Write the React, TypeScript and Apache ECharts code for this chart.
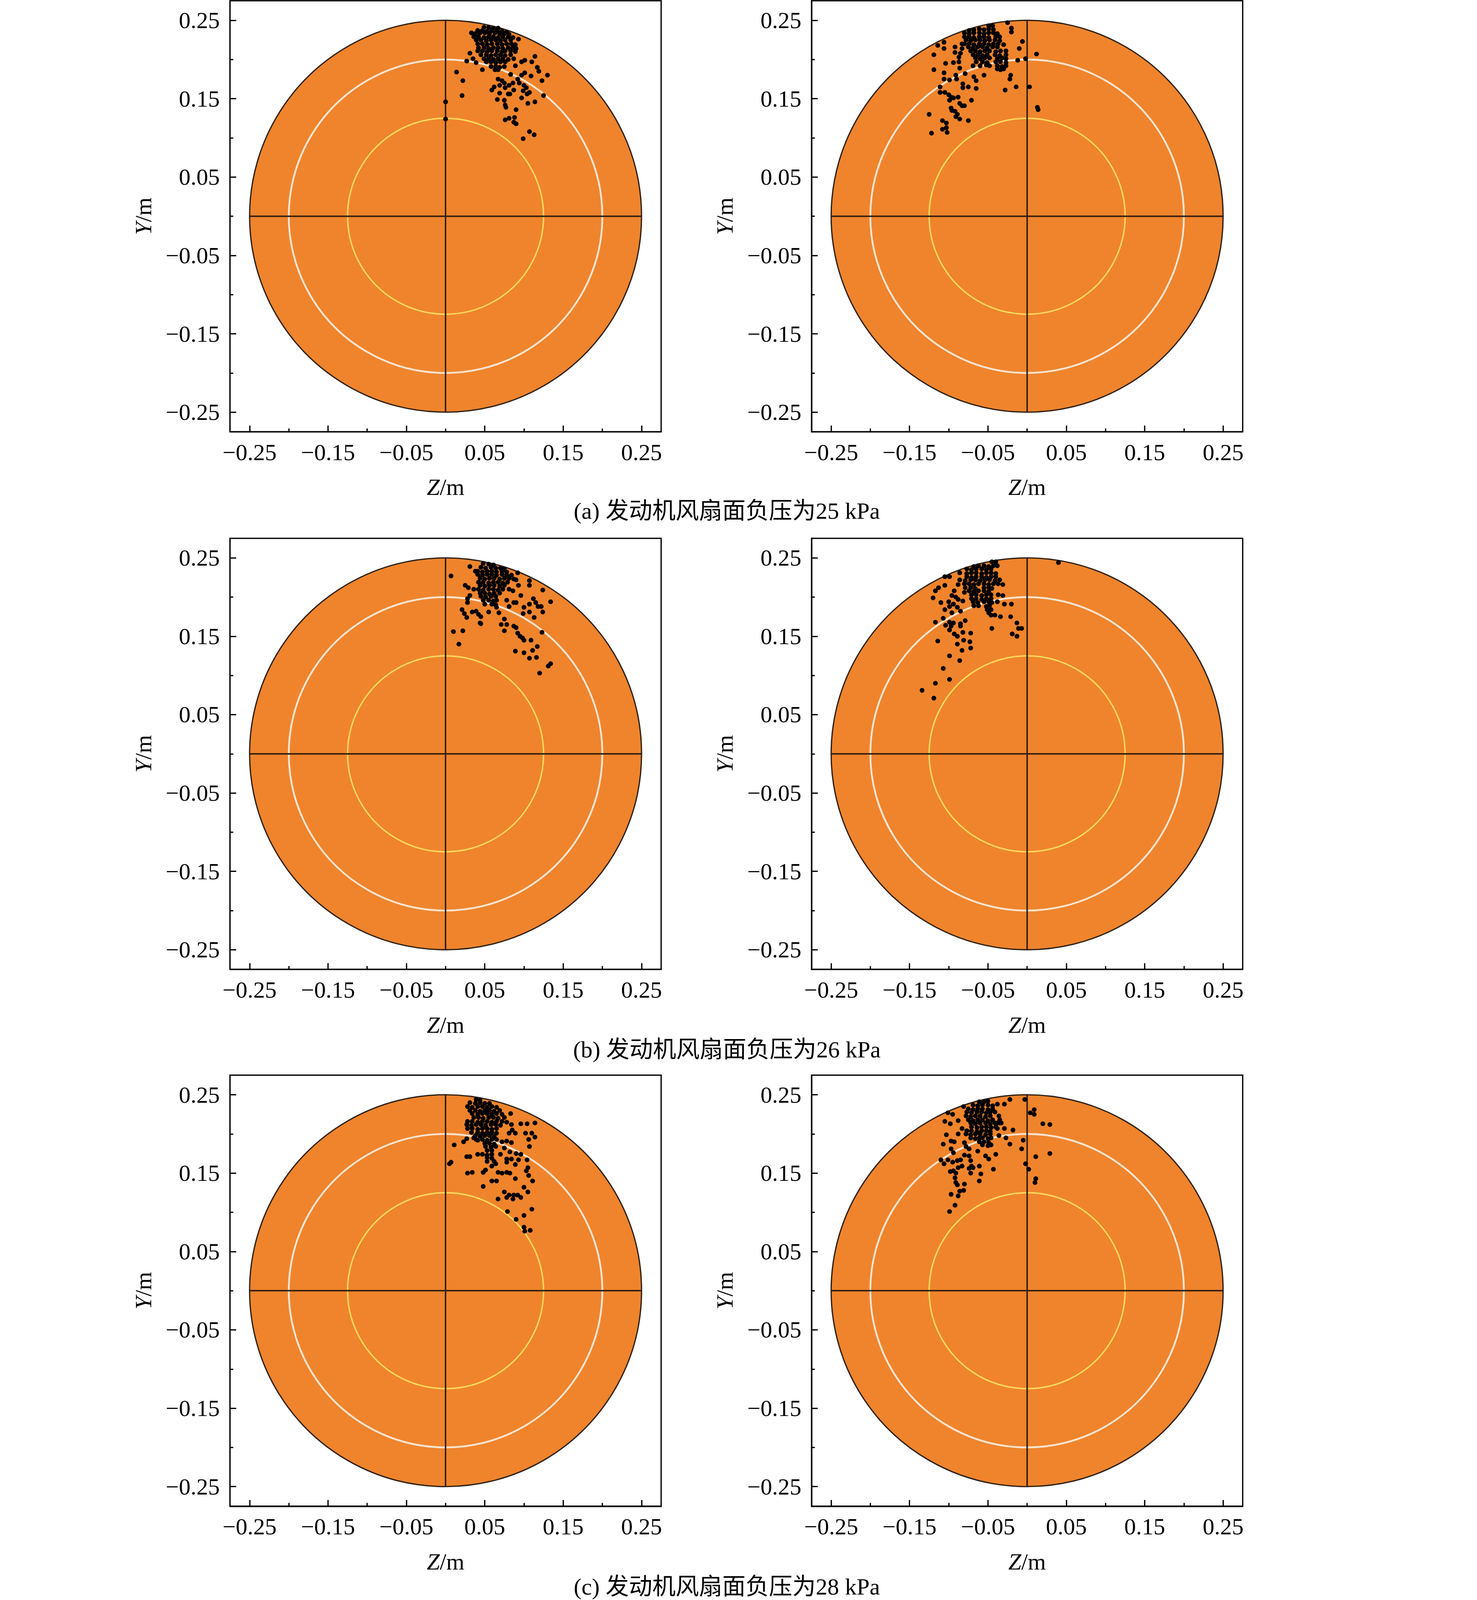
import React, { useEffect, useRef } from "react";
import * as echarts from "echarts";

const axisMin = -0.275;
const axisMax = 0.275;
const majorTicks = [-0.25, -0.15, -0.05, 0.05, 0.15, 0.25];
const minorTicks = [-0.2, -0.1, 0, 0.1, 0.2];
const ringRadii = [0.25, 0.2, 0.125];
const crossLines = [
  [-0.25, 0, 0.25, 0],
  [0, -0.25, 0, 0.25],
];
const captions = [
  "(a) 发动机风扇面负压为25 kPa",
  "(b) 发动机风扇面负压为26 kPa",
  "(c) 发动机风扇面负压为28 kPa",
];

// (a) left
const aLeft: number[][] = [
  [0.049,0.241],[0.055,0.241],[0.061,0.240],[0.067,0.240],
  [0.041,0.237],[0.047,0.237],[0.053,0.236],[0.059,0.237],[0.066,0.237],[0.072,0.236],[0.078,0.235],
  [0.033,0.234],[0.038,0.233],[0.044,0.234],[0.050,0.234],[0.056,0.233],[0.063,0.234],[0.069,0.233],[0.075,0.233],[0.081,0.232],
  [0.036,0.229],[0.042,0.229],[0.049,0.228],[0.055,0.229],[0.061,0.229],[0.067,0.228],[0.073,0.229],[0.080,0.229],[0.086,0.228],
  [0.039,0.225],[0.045,0.225],[0.052,0.224],[0.058,0.225],[0.064,0.225],[0.070,0.224],[0.076,0.225],[0.083,0.225],
  [0.041,0.220],[0.047,0.220],[0.053,0.219],[0.059,0.220],[0.066,0.220],[0.072,0.219],[0.078,0.220],[0.084,0.220],[0.089,0.219],
  [0.042,0.215],[0.049,0.215],[0.055,0.214],[0.061,0.215],[0.067,0.215],[0.073,0.214],[0.080,0.215],[0.086,0.215],[0.090,0.214],
  [0.041,0.211],[0.047,0.211],[0.053,0.210],[0.059,0.211],[0.066,0.211],[0.072,0.210],[0.076,0.211],[0.083,0.211],[0.089,0.210],
  [0.045,0.206],[0.052,0.206],[0.058,0.205],[0.064,0.206],[0.070,0.206],[0.076,0.205],[0.083,0.206],
  [0.049,0.201],[0.055,0.201],[0.061,0.200],[0.067,0.201],[0.073,0.201],[0.080,0.200],[0.087,0.201],
  [0.052,0.197],[0.058,0.197],[0.064,0.196],[0.070,0.197],[0.076,0.197],
  [0.058,0.191],[0.064,0.191],[0.069,0.190],[0.075,0.191],
  [0.063,0.187],[0.067,0.187],
  [0.014,0.184],[0.022,0.173],[0.021,0.154],[0.000,0.146],[0.000,0.124],
  [0.027,0.198],[0.031,0.208],[0.035,0.201],[0.039,0.196],[0.047,0.187],
  [0.093,0.226],[0.114,0.204],[0.110,0.197],[0.117,0.190],[0.119,0.185],
  [0.097,0.197],[0.101,0.199],[0.089,0.192],[0.083,0.181],
  [0.130,0.180],[0.123,0.173],[0.125,0.154],[0.109,0.179],
  [0.101,0.183],[0.097,0.180],[0.092,0.175],[0.094,0.170],[0.100,0.167],[0.103,0.164],[0.104,0.156],[0.099,0.160],[0.107,0.158],
  [0.067,0.175],[0.072,0.173],[0.075,0.170],[0.062,0.165],[0.059,0.161],[0.069,0.167],[0.076,0.164],[0.081,0.167],[0.086,0.170],
  [0.087,0.161],[0.082,0.156],[0.080,0.156],[0.069,0.157],
  [0.066,0.149],[0.075,0.148],[0.076,0.142],[0.077,0.139],[0.097,0.151],[0.105,0.144],[0.114,0.146],[0.090,0.136],
  [0.076,0.123],[0.081,0.125],[0.088,0.126],[0.087,0.120],[0.090,0.118],
  [0.107,0.108],[0.113,0.104],[0.099,0.099],
];

// (a) right
const aRight: number[][] = [
  [-0.049,0.243],[-0.044,0.243],
  [-0.074,0.237],[-0.068,0.238],[-0.061,0.239],[-0.055,0.238],[-0.049,0.239],[-0.043,0.238],
  [-0.080,0.234],[-0.074,0.233],[-0.068,0.234],[-0.061,0.234],[-0.055,0.233],[-0.049,0.234],[-0.043,0.234],[-0.038,0.233],
  [-0.080,0.229],[-0.074,0.229],[-0.068,0.228],[-0.061,0.229],[-0.055,0.229],[-0.049,0.228],[-0.040,0.229],[-0.035,0.229],
  [-0.078,0.225],[-0.072,0.224],[-0.066,0.225],[-0.060,0.225],[-0.054,0.224],[-0.048,0.225],[-0.041,0.225],[-0.035,0.224],
  [-0.080,0.220],[-0.074,0.220],[-0.068,0.219],[-0.061,0.220],[-0.055,0.220],[-0.049,0.219],[-0.043,0.220],[-0.037,0.220],[-0.030,0.219],
  [-0.075,0.216],[-0.069,0.215],[-0.063,0.216],[-0.057,0.216],[-0.051,0.215],[-0.044,0.216],[-0.038,0.216],
  [-0.072,0.211],[-0.066,0.211],[-0.060,0.210],[-0.054,0.211],[-0.048,0.211],[-0.040,0.210],[-0.034,0.211],[-0.027,0.211],
  [-0.069,0.206],[-0.063,0.206],[-0.057,0.205],[-0.051,0.206],[-0.041,0.206],[-0.035,0.205],[-0.027,0.206],
  [-0.066,0.202],[-0.060,0.201],[-0.054,0.202],[-0.048,0.202],[-0.038,0.201],[-0.032,0.202],[-0.027,0.201],
  [-0.065,0.197],[-0.057,0.197],[-0.051,0.196],[-0.040,0.197],[-0.034,0.197],[-0.027,0.196],
  [-0.069,0.192],[-0.060,0.192],[-0.052,0.193],[-0.048,0.192],[-0.038,0.192],[-0.032,0.191],[-0.027,0.192],
  [-0.038,0.188],[-0.034,0.187],[-0.030,0.188],
  [-0.025,0.247],[-0.020,0.240],[-0.020,0.235],[-0.006,0.223],[-0.010,0.214],[0.012,0.207],[-0.012,0.199],[-0.002,0.201],
  [-0.021,0.180],[-0.022,0.175],[-0.014,0.165],[0.003,0.165],[-0.028,0.161],[-0.055,0.180],[-0.068,0.178],[-0.065,0.173],
  [-0.065,0.163],[-0.075,0.165],[-0.082,0.169],[-0.082,0.164],[-0.079,0.182],
  [-0.106,0.222],[-0.114,0.218],[-0.106,0.214],[-0.119,0.206],[-0.092,0.216],[-0.092,0.209],[-0.083,0.220],[-0.083,0.214],
  [-0.085,0.208],[-0.087,0.203],[-0.087,0.197],[-0.086,0.189],[-0.094,0.196],[-0.104,0.195],[-0.119,0.187],[-0.106,0.183],
  [-0.091,0.180],[-0.090,0.175],[-0.099,0.174],[-0.106,0.175],
  [-0.111,0.165],[-0.111,0.158],[-0.105,0.158],[-0.100,0.155],[-0.097,0.152],[-0.099,0.148],[-0.094,0.151],[-0.088,0.152],
  [-0.086,0.144],[-0.083,0.141],[-0.080,0.141],[-0.097,0.138],[-0.096,0.135],[-0.092,0.134],[-0.089,0.130],[-0.086,0.124],
  [-0.091,0.127],[-0.075,0.122],[-0.071,0.148],[-0.125,0.130],[-0.108,0.122],[-0.103,0.119],[-0.108,0.111],[-0.103,0.113],
  [-0.102,0.107],[-0.122,0.106],[0.013,0.139],[0.014,0.136],
];

// (b) left
const bLeft: number[][] = [
  [0.048,0.243],[0.055,0.242],[0.061,0.241],
  [0.045,0.238],[0.051,0.237],[0.058,0.238],[0.064,0.237],[0.070,0.237],[0.075,0.236],
  [0.041,0.233],[0.047,0.232],[0.053,0.233],[0.059,0.233],[0.065,0.232],[0.072,0.233],[0.078,0.232],
  [0.041,0.229],[0.047,0.228],[0.053,0.229],[0.059,0.229],[0.065,0.228],[0.072,0.229],[0.078,0.228],[0.084,0.228],
  [0.044,0.224],[0.050,0.223],[0.056,0.224],[0.062,0.224],[0.069,0.223],[0.075,0.224],[0.081,0.224],[0.087,0.223],
  [0.042,0.219],[0.048,0.219],[0.055,0.218],[0.061,0.219],[0.067,0.219],[0.073,0.218],[0.079,0.219],
  [0.044,0.215],[0.050,0.214],[0.056,0.215],[0.062,0.215],[0.069,0.214],[0.075,0.215],
  [0.036,0.210],[0.042,0.210],[0.048,0.209],[0.055,0.210],[0.061,0.210],[0.067,0.209],[0.073,0.210],
  [0.044,0.205],[0.050,0.205],[0.056,0.204],[0.062,0.205],[0.069,0.205],
  [0.045,0.201],[0.051,0.200],[0.058,0.201],[0.064,0.201],
  [0.048,0.196],[0.055,0.196],[0.061,0.195],[0.065,0.196],
  [0.050,0.191],[0.059,0.191],[0.064,0.190],
  [0.065,0.187],
  [0.031,0.239],[0.007,0.227],[0.038,0.233],[0.025,0.215],[0.029,0.212],[0.031,0.202],[0.028,0.198],[0.028,0.193],
  [0.081,0.210],[0.086,0.208],[0.093,0.215],[0.092,0.231],[0.090,0.222],[0.107,0.221],[0.107,0.215],[0.124,0.209],
  [0.096,0.202],[0.134,0.194],[0.078,0.196],[0.081,0.188],[0.087,0.193],[0.090,0.193],[0.100,0.187],[0.107,0.191],
  [0.112,0.198],[0.115,0.193],[0.118,0.188],[0.122,0.188],[0.124,0.181],[0.113,0.174],[0.107,0.181],[0.099,0.179],
  [0.055,0.181],[0.068,0.180],[0.021,0.184],[0.024,0.179],[0.027,0.174],[0.034,0.181],[0.039,0.182],[0.042,0.178],
  [0.045,0.175],[0.044,0.167],[0.045,0.166],[0.075,0.172],[0.071,0.165],[0.078,0.165],[0.075,0.157],[0.087,0.163],
  [0.090,0.161],[0.092,0.154],[0.095,0.150],[0.098,0.148],[0.100,0.145],[0.109,0.145],[0.117,0.137],[0.111,0.132],
  [0.089,0.131],[0.100,0.129],[0.107,0.122],[0.116,0.123],[0.123,0.155],[0.131,0.112],[0.134,0.115],[0.120,0.103],
  [0.010,0.156],[0.022,0.157],[0.017,0.140],
];

// (b) right
const bRight: number[][] = [
  [-0.045,0.245],[-0.040,0.245],
  [-0.068,0.239],[-0.062,0.240],[-0.055,0.240],[-0.049,0.239],[-0.043,0.240],[-0.038,0.240],
  [-0.077,0.236],[-0.071,0.235],[-0.065,0.236],[-0.058,0.236],[-0.052,0.235],[-0.046,0.236],
  [-0.086,0.231],[-0.077,0.230],[-0.071,0.231],[-0.065,0.231],[-0.058,0.230],[-0.052,0.231],[-0.046,0.231],[-0.040,0.230],
  [-0.105,0.226],[-0.099,0.226],[-0.077,0.226],[-0.071,0.225],[-0.065,0.226],[-0.058,0.226],[-0.052,0.225],[-0.046,0.226],[-0.040,0.226],
  [-0.086,0.222],[-0.079,0.221],[-0.072,0.222],[-0.066,0.222],[-0.060,0.221],[-0.054,0.222],[-0.048,0.222],[-0.041,0.221],[-0.035,0.222],
  [-0.080,0.217],[-0.074,0.217],[-0.068,0.216],[-0.062,0.217],[-0.055,0.217],[-0.049,0.216],[-0.043,0.217],[-0.037,0.217],[-0.031,0.216],
  [-0.079,0.212],[-0.072,0.212],[-0.066,0.211],[-0.055,0.212],[-0.049,0.212],[-0.045,0.211],
  [-0.074,0.208],[-0.068,0.207],[-0.062,0.208],[-0.055,0.208],[-0.049,0.207],
  [-0.071,0.203],[-0.065,0.203],[-0.058,0.202],[-0.052,0.203],[-0.046,0.203],[-0.037,0.203],[-0.031,0.202],
  [-0.071,0.198],[-0.065,0.198],[-0.058,0.197],[-0.052,0.198],[-0.046,0.198],
  [-0.069,0.194],[-0.063,0.193],[-0.055,0.194],[-0.049,0.194],[-0.045,0.193],[-0.038,0.194],
  [-0.068,0.189],[-0.062,0.189],[-0.052,0.188],[-0.048,0.189],
  [-0.051,0.184],[-0.046,0.184],[-0.049,0.180],[-0.046,0.177],[-0.041,0.177],
  [0.040,0.244],[-0.105,0.215],[-0.113,0.212],[-0.117,0.208],[-0.120,0.199],[-0.110,0.193],[-0.093,0.208],[-0.088,0.216],
  [-0.080,0.206],[-0.096,0.202],[-0.091,0.200],[-0.088,0.197],[-0.082,0.195],[-0.100,0.194],[-0.094,0.191],[-0.089,0.187],
  [-0.085,0.182],[-0.105,0.184],[-0.096,0.180],[-0.099,0.188],[-0.029,0.191],[-0.020,0.191],[-0.034,0.175],[-0.021,0.175],
  [-0.107,0.173],[-0.117,0.168],[-0.104,0.164],[-0.099,0.168],[-0.097,0.163],[-0.099,0.158],[-0.094,0.167],[-0.085,0.166],
  [-0.085,0.163],[-0.079,0.170],[-0.093,0.153],[-0.089,0.150],[-0.082,0.155],[-0.072,0.154],[-0.045,0.160],[-0.013,0.167],
  [-0.011,0.160],[-0.007,0.160],[-0.019,0.153],[-0.013,0.150],[-0.114,0.144],[-0.089,0.140],[-0.081,0.145],[-0.073,0.143],
  [-0.072,0.135],[-0.083,0.132],[-0.099,0.125],[-0.086,0.119],[-0.107,0.109],[-0.099,0.095],[-0.117,0.090],[-0.134,0.081],
  [-0.119,0.071],
];

// (c) left
const cLeft: number[][] = [
  [0.039,0.244],[0.044,0.243],
  [0.031,0.240],[0.038,0.239],[0.044,0.240],[0.050,0.239],[0.056,0.239],
  [0.028,0.235],[0.034,0.234],[0.041,0.235],[0.047,0.235],[0.053,0.234],[0.059,0.235],[0.065,0.234],
  [0.031,0.230],[0.038,0.230],[0.044,0.229],[0.050,0.230],[0.056,0.230],[0.062,0.229],[0.069,0.230],
  [0.034,0.226],[0.041,0.225],[0.047,0.226],[0.053,0.226],[0.059,0.225],[0.065,0.226],[0.072,0.225],
  [0.036,0.221],[0.042,0.221],[0.048,0.220],[0.055,0.221],[0.061,0.221],[0.067,0.220],[0.075,0.221],
  [0.028,0.216],[0.034,0.216],[0.041,0.215],[0.047,0.216],[0.053,0.216],[0.059,0.215],[0.065,0.216],[0.072,0.216],[0.078,0.215],
  [0.027,0.212],[0.033,0.211],[0.039,0.212],[0.045,0.212],[0.051,0.211],[0.058,0.212],[0.064,0.212],[0.070,0.211],
  [0.028,0.207],[0.034,0.207],[0.041,0.206],[0.047,0.207],[0.053,0.207],[0.059,0.206],[0.065,0.207],
  [0.033,0.202],[0.041,0.202],[0.047,0.201],[0.053,0.202],[0.059,0.202],[0.065,0.201],
  [0.038,0.198],[0.044,0.197],[0.050,0.198],[0.056,0.198],[0.062,0.197],
  [0.039,0.193],[0.047,0.193],[0.053,0.192],[0.059,0.193],[0.065,0.193],
  [0.050,0.188],[0.056,0.188],[0.062,0.187],
  [0.051,0.184],[0.058,0.183],[0.064,0.184],
  [0.053,0.179],[0.059,0.179],
  [0.041,0.174],[0.047,0.174],[0.053,0.173],[0.059,0.174],
  [0.053,0.170],[0.059,0.169],[0.053,0.165],[0.062,0.165],
  [0.083,0.226],[0.096,0.213],[0.104,0.213],[0.114,0.214],[0.084,0.212],[0.085,0.205],[0.089,0.201],[0.081,0.201],
  [0.102,0.201],[0.110,0.201],[0.114,0.196],[0.106,0.193],[0.107,0.184],[0.072,0.190],[0.078,0.191],[0.084,0.189],
  [0.075,0.182],[0.023,0.190],[0.027,0.194],[0.011,0.186],[0.036,0.195],[0.041,0.192],[0.070,0.174],[0.082,0.177],
  [0.090,0.175],[0.096,0.174],[0.078,0.168],[0.084,0.168],[0.093,0.167],[0.104,0.167],[0.078,0.164],[0.089,0.161],
  [0.064,0.162],[0.059,0.159],[0.027,0.171],[0.031,0.171],[0.007,0.164],[0.005,0.162],[0.028,0.150],[0.034,0.151],
  [0.048,0.151],[0.051,0.154],[0.067,0.151],[0.072,0.150],[0.078,0.151],[0.082,0.150],[0.089,0.143],[0.105,0.157],
  [0.103,0.153],[0.106,0.147],[0.111,0.140],[0.059,0.140],[0.065,0.140],[0.048,0.133],[0.075,0.126],[0.081,0.122],
  [0.087,0.122],[0.092,0.122],[0.096,0.119],[0.086,0.117],[0.078,0.119],[0.067,0.117],[0.100,0.132],[0.105,0.126],
  [0.110,0.104],[0.100,0.096],[0.079,0.101],[0.090,0.091],[0.100,0.081],[0.101,0.076],[0.108,0.077],
];

// (c) right
const cRight: number[][] = [
  [-0.061,0.241],[-0.055,0.241],[-0.050,0.242],
  [-0.069,0.237],[-0.063,0.236],[-0.057,0.237],[-0.050,0.237],[-0.044,0.236],
  [-0.075,0.232],[-0.069,0.231],[-0.063,0.232],[-0.057,0.232],[-0.050,0.231],[-0.044,0.232],
  [-0.077,0.228],[-0.071,0.227],[-0.064,0.228],[-0.058,0.228],[-0.052,0.227],[-0.047,0.228],[-0.041,0.228],
  [-0.078,0.223],[-0.072,0.222],[-0.066,0.223],[-0.060,0.223],[-0.053,0.222],[-0.047,0.223],[-0.036,0.223],
  [-0.075,0.218],[-0.069,0.217],[-0.063,0.218],[-0.057,0.218],[-0.050,0.217],[-0.044,0.218],[-0.035,0.218],
  [-0.072,0.214],[-0.066,0.213],[-0.060,0.214],[-0.053,0.214],[-0.047,0.213],[-0.041,0.214],[-0.035,0.214],
  [-0.071,0.209],[-0.064,0.208],[-0.058,0.209],[-0.052,0.209],[-0.046,0.208],[-0.040,0.209],
  [-0.077,0.204],[-0.071,0.204],[-0.064,0.203],[-0.058,0.204],[-0.052,0.204],[-0.047,0.203],
  [-0.078,0.200],[-0.072,0.199],[-0.066,0.200],[-0.060,0.200],[-0.053,0.199],[-0.047,0.200],
  [-0.072,0.195],[-0.066,0.194],[-0.061,0.195],[-0.057,0.195],[-0.050,0.194],[-0.046,0.195],
  [-0.061,0.190],[-0.055,0.190],[-0.049,0.189],
  [-0.057,0.186],[-0.050,0.185],[-0.046,0.186],
  [-0.022,0.244],[-0.003,0.244],[-0.038,0.238],[-0.029,0.238],[0.009,0.231],[0.004,0.227],[0.009,0.225],[-0.081,0.235],
  [-0.101,0.227],[-0.095,0.225],[-0.105,0.216],[-0.098,0.213],[-0.088,0.217],[-0.083,0.207],[-0.088,0.200],[-0.103,0.199],
  [-0.107,0.187],[-0.097,0.191],[-0.093,0.190],[-0.038,0.214],[-0.033,0.214],[-0.029,0.207],[-0.018,0.205],[-0.038,0.207],
  [-0.036,0.198],[-0.027,0.195],[-0.022,0.187],[-0.005,0.192],[-0.007,0.181],[0.020,0.213],[0.029,0.212],[0.029,0.175],
  [0.011,0.171],[-0.002,0.162],[0.002,0.155],[0.011,0.143],[0.010,0.138],[-0.043,0.155],[-0.040,0.174],[-0.053,0.172],
  [-0.049,0.168],[-0.063,0.178],
  [-0.080,0.189],[-0.078,0.184],[-0.074,0.181],[-0.097,0.181],[-0.094,0.176],[-0.110,0.167],[-0.106,0.162],[-0.101,0.167],
  [-0.095,0.164],[-0.089,0.166],[-0.085,0.167],[-0.080,0.173],[-0.074,0.172],[-0.072,0.166],[-0.071,0.159],[-0.074,0.156],
  [-0.069,0.157],[-0.083,0.159],[-0.088,0.157],[-0.098,0.152],[-0.094,0.153],[-0.091,0.150],[-0.072,0.150],[-0.061,0.159],
  [-0.059,0.149],[-0.061,0.140],[-0.092,0.144],[-0.091,0.138],[-0.089,0.135],[-0.080,0.136],[-0.086,0.127],[-0.081,0.128],
  [-0.088,0.121],[-0.097,0.123],[-0.092,0.109],[-0.099,0.101],
];

const panels = [aLeft, aRight, bLeft, bRight, cLeft, cRight];

const BASE_W = 3780;
const BASE_H = 4384;
const serif = '"Liberation Serif", "Times New Roman", serif';

const fmt = (v: number) => {
  const s = (Math.round(v * 100) / 100).toFixed(2);
  return s.replace("-", "\u2212");
};

function buildOption(k: number) {
  const gridLefts = [630 * k, 2223 * k];
  const gridTops = [2 * k, 1475 * k, 2946 * k];
  const gridSize = 1181 * k;
  const captionYs = [1400 * k, 2876 * k, 4348 * k];
  const captionX = 1991 * k;
  const fs = 64 * k;
  const lw = 3.5 * k;
  const ringStyles = [
    { fill: "#EF842C", stroke: "#2e2117", lineWidth: 3.5 * k },
    { fill: "none", stroke: "#F7E4D2", lineWidth: 5 * k },
    { fill: "none", stroke: "#FDD95C", lineWidth: 4 * k },
  ];
  const grid: any[] = [];
  const xAxis: any[] = [];
  const yAxis: any[] = [];
  const series: any[] = [];
  panels.forEach((pts, i) => {
    const row = Math.floor(i / 2);
    const col = i % 2;
    grid.push({
      left: gridLefts[col],
      top: gridTops[row],
      width: gridSize,
      height: gridSize,
      show: true,
      borderColor: "#000",
      borderWidth: lw,
      backgroundColor: "transparent",
      containLabel: false,
      outerBoundsMode: "none",
    });
    const labelStyle = { fontSize: fs, fontFamily: serif, color: "#000" };
    const nameStyle = {
      fontSize: fs,
      fontFamily: serif,
      color: "#000",
      rich: { i: { fontStyle: "italic", fontSize: fs, fontFamily: serif, color: "#000" } },
    };
    const base = {
      type: "value",
      gridIndex: i,
      min: axisMin,
      max: axisMax,
      splitLine: { show: false },
      nameMoveOverlap: false,
    };
    xAxis.push({
      ...base,
      position: "bottom",
      axisLine: { show: true, onZero: false, lineStyle: { color: "#000", width: lw } },
      axisTick: { show: true, inside: true, length: 17 * k, customValues: majorTicks, lineStyle: { color: "#000", width: lw } },
      axisLabel: { show: true, customValues: majorTicks, formatter: fmt, margin: 24 * k, ...labelStyle },
      name: "{i|Z}/m",
      nameLocation: "middle",
      nameGap: 120 * k,
      nameTextStyle: nameStyle,
    });
    xAxis.push({
      ...base,
      position: "bottom",
      axisLine: { show: false, onZero: false },
      axisTick: { show: true, inside: true, length: 9 * k, customValues: minorTicks, lineStyle: { color: "#000", width: lw } },
      axisLabel: { show: false },
    });
    yAxis.push({
      ...base,
      position: "left",
      axisLine: { show: true, onZero: false, lineStyle: { color: "#000", width: lw } },
      axisTick: { show: true, inside: true, length: 17 * k, customValues: majorTicks, lineStyle: { color: "#000", width: lw } },
      axisLabel: { show: true, customValues: majorTicks, formatter: fmt, margin: 28 * k, ...labelStyle },
      name: "{i|Y}/m",
      nameLocation: "middle",
      nameGap: 205 * k,
      nameRotate: 90,
      nameTextStyle: nameStyle,
    });
    yAxis.push({
      ...base,
      position: "left",
      axisLine: { show: false, onZero: false },
      axisTick: { show: true, inside: true, length: 9 * k, customValues: minorTicks, lineStyle: { color: "#000", width: lw } },
      axisLabel: { show: false },
    });
    const xi = i * 2;
    const yi = i * 2;
    series.push({
      type: "custom",
      xAxisIndex: xi,
      yAxisIndex: yi,
      z: 1,
      silent: true,
      clip: false,
      data: ringRadii.map((r) => [0, 0, r]),
      encode: { x: 0, y: 1 },
      renderItem: (params: any, api: any) => {
        const r = api.value(2);
        const c = api.coord([0, 0]);
        const s = api.size([r, r]);
        return {
          type: "circle",
          shape: { cx: c[0], cy: c[1], r: s[0] },
          style: ringStyles[params.dataIndex],
        };
      },
    });
    series.push({
      type: "custom",
      xAxisIndex: xi,
      yAxisIndex: yi,
      z: 2,
      silent: true,
      clip: false,
      data: crossLines,
      encode: { x: [0, 2], y: [1, 3] },
      renderItem: (params: any, api: any) => {
        const p1 = api.coord([api.value(0), api.value(1)]);
        const p2 = api.coord([api.value(2), api.value(3)]);
        return {
          type: "line",
          shape: { x1: p1[0], y1: p1[1], x2: p2[0], y2: p2[1] },
          style: { stroke: "#2f1d10", lineWidth: 4 * k },
        };
      },
    });
    series.push({
      type: "scatter",
      xAxisIndex: xi,
      yAxisIndex: yi,
      z: 3,
      symbol: "circle",
      symbolSize: 13 * k,
      itemStyle: { color: "#000", opacity: 1 },
      data: pts,
    });
  });
  const graphic = captions.map((t, idx) => ({
    type: "text",
    x: captionX,
    y: captionYs[idx],
    style: {
      text: t,
      fill: "#000",
      font: `${fs}px ${serif}, "Noto Sans CJK SC"`,
      textAlign: "center",
      textVerticalAlign: "middle",
    },
  }));
  return {
    animation: false,
    backgroundColor: "#fff",
    grid,
    xAxis,
    yAxis,
    series,
    graphic,
  };
}

export default function App() {
  const ref = useRef<HTMLDivElement>(null);
  const vw = typeof window !== "undefined" ? window.innerWidth : BASE_W;
  const vh = typeof window !== "undefined" ? window.innerHeight : BASE_H;
  const k = Math.min(1, vw / BASE_W, vh / BASE_H);
  const w = BASE_W * k;
  const h = BASE_H * k;
  useEffect(() => {
    if (!ref.current) return;
    const chart = echarts.init(ref.current, null, { renderer: "svg", width: w, height: h });
    chart.setOption(buildOption(k) as any);
    return () => chart.dispose();
  }, []);
  return (
    <div
      ref={ref}
      style={{ position: "fixed", left: 0, top: 0, width: w, height: h, overflow: "hidden" }}
    />
  );
}
